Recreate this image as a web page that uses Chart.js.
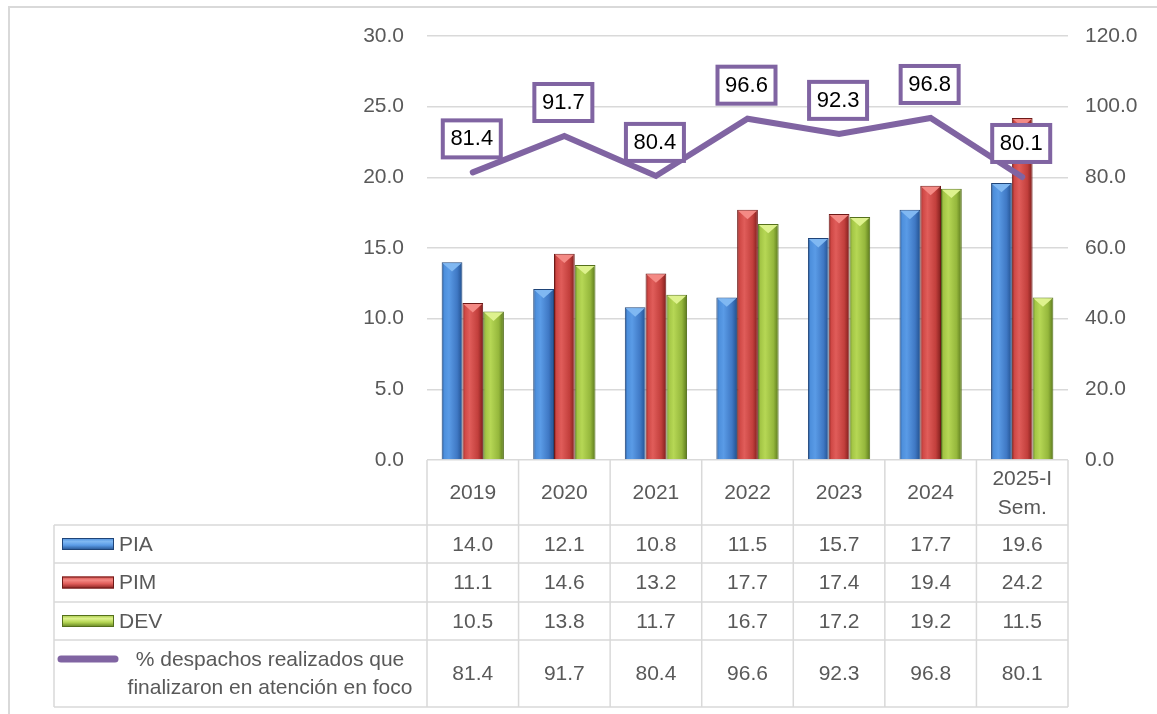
<!DOCTYPE html>
<html>
<head>
<meta charset="utf-8">
<script src="https://cdn.jsdelivr.net/npm/chart.js@4.4.0/dist/chart.umd.min.js"></script>
<style>
html, body { margin: 0; padding: 0; background: #fff; }
#wrap { position: relative; width: 1157px; height: 714px; }
canvas { position: absolute; left: 0; top: 0; }
</style>
</head>
<body>
<div id="wrap"><canvas id="chart" width="1157" height="714"></canvas></div>
<script>
var years = ['2019', '2020', '2021', '2022', '2023', '2024', ['2025-I', 'Sem.']];
var pia = [14.0, 12.1, 10.8, 11.5, 15.7, 17.7, 19.6];
var pim = [11.1, 14.6, 13.2, 17.7, 17.4, 19.4, 24.2];
var dev = [10.5, 13.8, 11.7, 16.7, 17.2, 19.2, 11.5];
var pct = [81.4, 91.7, 80.4, 96.6, 92.3, 96.8, 80.1];
var lineLabel = ['% despachos realizados que', 'finalizaron en atención en foco'];

var FONT = '"Liberation Sans", Arial, sans-serif';
var FSIZE = 21;
var GRAY = '#595959';
var GRID = '#d9d9d9';
var PURPLE = '#8064A2';
var CAT_PCT = 0.68;

// gradient stops per bar colour: dark edge, highlight, body, dark edge
var BAR_STYLES = [
	{ name: 'PIA', stops: ['#24508c', '#4d8fdc', '#5a9be6', '#3f78c4', '#22508e'], top: '#80b8f2', edge: '#1f4478' },
	{ name: 'PIM', stops: ['#84201e', '#cf4845', '#e05d5a', '#c23f3c', '#7e1e1c'], top: '#f48a85', edge: '#6e1a18' },
	{ name: 'DEV', stops: ['#607e20', '#a3c545', '#b6d755', '#95b73c', '#5a781c'], top: '#def28e', edge: '#55701c' }
];

function barFill(style) {
	return function(ctx) {
		var chart = ctx.chart;
		if (!chart.chartArea || ctx.type !== 'data') return style.stops[2];
		var x = chart.scales.x;
		var cw = x.width / years.length;
		var gw = cw * CAT_PCT, bw = gw / 3;
		var left = x.getPixelForValue(ctx.dataIndex) - gw / 2 + ctx.datasetIndex * bw;
		var g = chart.ctx.createLinearGradient(left, 0, left + bw, 0);
		g.addColorStop(0, style.stops[0]);
		g.addColorStop(0.12, style.stops[1]);
		g.addColorStop(0.35, style.stops[2]);
		g.addColorStop(0.75, style.stops[3]);
		g.addColorStop(1, style.stops[4]);
		return g;
	};
}

// light bevel on top of every bar
var bevelPlugin = {
	id: 'bevel',
	afterDatasetDraw: function(chart, args) {
		if (args.index > 2) return;
		var ctx = chart.ctx, style = BAR_STYLES[args.index];
		ctx.save();
		args.meta.data.forEach(function(bar) {
			var w = bar.width, l = bar.x - w / 2;
			ctx.fillStyle = style.top;
			ctx.beginPath();
			ctx.moveTo(l + 1, bar.y + 1);
			ctx.lineTo(l + w - 1, bar.y + 1);
			ctx.lineTo(bar.x, bar.y + w * 0.45);
			ctx.closePath();
			ctx.fill();
		});
		ctx.restore();
	}
};

function swatch(ctx, style, x, y, w, h) {
	var g = ctx.createLinearGradient(0, y, 0, y + h);
	g.addColorStop(0, style.stops[1]);
	g.addColorStop(0.3, style.top);
	g.addColorStop(0.6, style.stops[2]);
	g.addColorStop(1, style.stops[0]);
	ctx.fillStyle = g;
	ctx.fillRect(x, y, w, h);
	ctx.strokeStyle = style.edge;
	ctx.lineWidth = 1;
	ctx.strokeRect(x + 0.5, y + 0.5, w - 1, h - 1);
}

var framePlugin = {
	id: 'frame',
	beforeDraw: function(chart) {
		var ctx = chart.ctx;
		ctx.save();
		ctx.fillStyle = '#fff';
		ctx.fillRect(0, 0, chart.width, chart.height);
		ctx.strokeStyle = GRID;
		ctx.lineWidth = 2;
		ctx.beginPath();
		ctx.moveTo(chart.width, 7);
		ctx.lineTo(9, 7);
		ctx.lineTo(9, chart.height);
		ctx.stroke();
		ctx.restore();
	}
};

// data table under the plot
var tablePlugin = {
	id: 'dataTable',
	afterDraw: function(chart) {
		var ctx = chart.ctx, x = chart.scales.x, area = chart.chartArea;
		var cw = x.width / years.length;
		var top = area.bottom;
		var rows = [top + 65, top + 103, top + 142, top + 180, top + 247];
		var tableLeft = 54;
		var i, j;
		ctx.save();
		ctx.strokeStyle = GRID;
		ctx.lineWidth = 1.5;
		ctx.beginPath();
		for (i = 0; i < rows.length; i++) {
			ctx.moveTo(tableLeft, rows[i]);
			ctx.lineTo(area.right, rows[i]);
		}
		ctx.moveTo(tableLeft, rows[0]);
		ctx.lineTo(tableLeft, rows[4]);
		for (i = 0; i <= years.length; i++) {
			ctx.moveTo(area.left + i * cw, top);
			ctx.lineTo(area.left + i * cw, rows[4]);
		}
		ctx.stroke();

		ctx.font = FSIZE + 'px ' + FONT;
		ctx.fillStyle = GRAY;
		ctx.textAlign = 'center';
		ctx.textBaseline = 'middle';
		var series = [pia, pim, dev, pct];
		for (j = 0; j < series.length; j++) {
			var cy = (rows[j] + rows[j + 1]) / 2;
			for (i = 0; i < years.length; i++) {
				ctx.fillText(series[j][i].toFixed(1), x.getPixelForValue(i), cy + 1);
			}
		}

		// legend keys
		for (j = 0; j < 3; j++) {
			var my = (rows[j] + rows[j + 1]) / 2;
			swatch(ctx, BAR_STYLES[j], 62, my - 6, 52, 12);
			ctx.fillStyle = GRAY;
			ctx.textAlign = 'left';
			ctx.fillText(BAR_STYLES[j].name, 119, my + 1);
		}
		ctx.strokeStyle = PURPLE;
		ctx.lineWidth = 7;
		ctx.lineCap = 'round';
		ctx.beginPath();
		ctx.moveTo(61, rows[3] + 19);
		ctx.lineTo(115, rows[3] + 19);
		ctx.stroke();
		ctx.fillStyle = GRAY;
		ctx.textAlign = 'center';
		ctx.fillText(lineLabel[0], 270, rows[3] + 20);
		ctx.fillText(lineLabel[1], 270, rows[3] + 48);
		ctx.restore();
	}
};

// boxed value labels on the line
var boxLabelPlugin = {
	id: 'boxLabels',
	afterDraw: function(chart) {
		var ctx = chart.ctx;
		var meta = chart.getDatasetMeta(3);
		ctx.save();
		ctx.font = '22px ' + FONT;
		ctx.textAlign = 'center';
		ctx.textBaseline = 'middle';
		meta.data.forEach(function(pt, i) {
			var cx = pt.x - 1, cy = pt.y - 34;
			ctx.fillStyle = '#fff';
			ctx.fillRect(cx - 29, cy - 18, 58, 37);
			ctx.strokeStyle = PURPLE;
			ctx.lineWidth = 4;
			ctx.strokeRect(cx - 29, cy - 18, 58, 37);
			ctx.fillStyle = '#000';
			ctx.fillText(pct[i].toFixed(1), cx, cy + 1);
		});
		ctx.restore();
	}
};

var barDatasets = [pia, pim, dev].map(function(d, i) {
	return {
		type: 'bar',
		label: BAR_STYLES[i].name,
		data: d,
		yAxisID: 'y',
		order: 1,
		backgroundColor: barFill(BAR_STYLES[i]),
		borderColor: BAR_STYLES[i].edge,
		borderWidth: 1,
		barPercentage: 1.0,
		categoryPercentage: CAT_PCT
	};
});

new Chart(document.getElementById('chart'), {
	data: {
		labels: years,
		datasets: barDatasets.concat([{
			type: 'line',
			label: lineLabel.join(' '),
			data: pct,
			yAxisID: 'y1',
			order: 0,
			borderColor: PURPLE,
			borderWidth: 6,
			borderCapStyle: 'round',
			borderJoinStyle: 'miter',
			pointRadius: 0,
			tension: 0,
			fill: false
		}])
	},
	options: {
		responsive: false,
		animation: false,
		layout: { padding: { top: 36, bottom: 0, left: 0, right: 0 } },
		plugins: {
			legend: { display: false },
			tooltip: { enabled: false }
		},
		scales: {
			x: {
				offset: true,
				grid: { display: false },
				border: { display: false },
				ticks: {
					color: GRAY,
					font: { family: FONT, size: FSIZE, lineHeight: 1.4 },
					padding: 11,
					crossAlign: 'center',
					maxRotation: 0,
					autoSkip: false
				},
				afterFit: function(scale) { scale.height = 254; }
			},
			y: {
				position: 'left',
				min: 0, max: 30,
				ticks: {
					stepSize: 5,
					color: GRAY,
					padding: 23,
					font: { family: FONT, size: FSIZE },
					callback: function(v) { return v.toFixed(1); }
				},
				grid: { color: GRID, lineWidth: 1.5, drawTicks: false },
				border: { display: false },
				afterFit: function(scale) { scale.width = 427; }
			},
			y1: {
				position: 'right',
				min: 0, max: 120,
				ticks: {
					stepSize: 20,
					color: GRAY,
					padding: 17,
					font: { family: FONT, size: FSIZE },
					callback: function(v) { return v.toFixed(1); }
				},
				grid: { drawOnChartArea: false, drawTicks: false },
				border: { display: false },
				afterFit: function(scale) { scale.width = 89; }
			}
		}
	},
	plugins: [framePlugin, bevelPlugin, tablePlugin, boxLabelPlugin]
});
</script>
</body>
</html>
